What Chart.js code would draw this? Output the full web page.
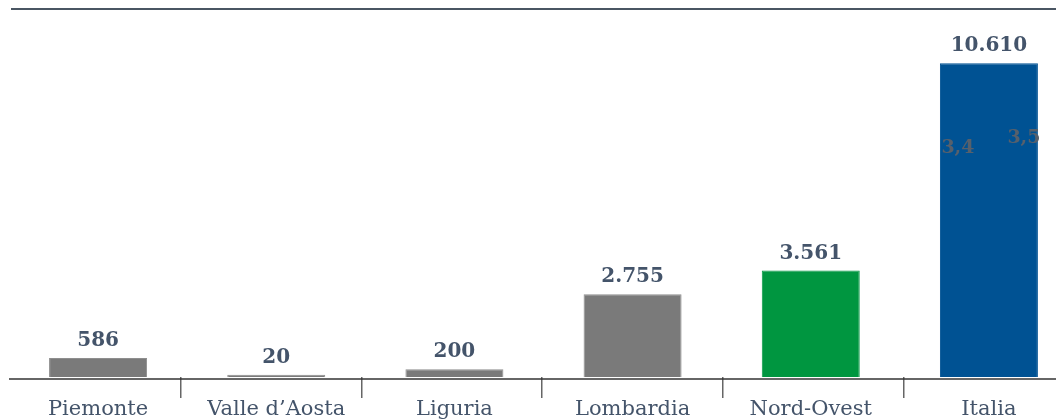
<!DOCTYPE html>
<html>
<head>
<meta charset="utf-8">
<script src="https://cdn.jsdelivr.net/npm/chart.js@4"></script>
<style>
  html, body { margin: 0; padding: 0; background: #fff; overflow: hidden; width: 1056px; height: 419px; }
  #wrap { position: absolute; left: 0; top: 0; width: 1080px; height: 419px; }
</style>
</head>
<body>
<div id="wrap"><canvas id="myChart" width="1080" height="419"></canvas></div>
<script>
// regions and values
const regions = ['Piemonte', 'Valle d\u2019Aosta', 'Liguria', 'Lombardia', 'Nord-Ovest', 'Italia'];
const values = [586, 20, 200, 2755, 3561, 10610];
const barColors = ['#7a7a7a', '#7a7a7a', '#7a7a7a', '#7a7a7a', '#009640', '#005293'];
// small labels sitting over the last bar
const sideNotes = ['3,4', '3,5'];
// separators between the category labels
const separators = [1, 2, 3, 4, 5];

const textColor = '#44546a';
const yMin = -60;

function formatIt(n) {
    return String(n).replace(/\B(?=(\d{3})+(?!\d))/g, '.');
}

// value labels above bars, header rule, axis line and the side notes
const decorations = {
    id: 'decorations',
    afterDatasetsDraw(chart) {
        const ctx = chart.ctx;
        const meta = chart.getDatasetMeta(0);
        ctx.save();
        ctx.fillStyle = textColor;
        ctx.font = 'bold 20px "DejaVu Serif"';
        ctx.textAlign = 'center';
        ctx.textBaseline = 'alphabetic';
        meta.data.forEach((bar, i) => {
            const y = chart.scales.y.getPixelForValue(values[i]);
            ctx.fillText(formatIt(values[i]), bar.x, y - 12);
        });

        // header rule
        ctx.strokeStyle = '#4a5663';
        ctx.lineWidth = 2;
        ctx.beginPath();
        ctx.moveTo(11, 9);
        ctx.lineTo(chart.width, 9);
        ctx.stroke();

        // baseline
        const yb = chart.chartArea.bottom + 2;
        ctx.strokeStyle = '#333';
        ctx.lineWidth = 1.5;
        ctx.beginPath();
        ctx.moveTo(9, yb);
        ctx.lineTo(chart.width, yb);
        ctx.stroke();

        // notes over the Italia bar
        const last = meta.data[meta.data.length - 1];
        ctx.fillStyle = '#56606c';
        ctx.font = 'bold 19px "DejaVu Serif"';
        ctx.fillText(sideNotes[0], last.x - 31, 153);
        ctx.fillText(sideNotes[1], last.x + 35, 143);
        ctx.restore();
    }
};

const config = {
    type: 'bar',
    data: {
        labels: regions,
        datasets: [{
            data: values,
            base: yMin,
            backgroundColor: barColors,
            borderColor: barColors.map(c => c === '#7a7a7a' ? '#8e8e8e' : c),
            borderWidth: 1,
            borderSkipped: 'bottom',
            minBarLength: 2,
            barPercentage: 0.55,
            categoryPercentage: 1
        }]
    },
    options: {
        responsive: false,
        animation: false,
        layout: { padding: { top: 10, left: 9, right: 2, bottom: 0 } },
        plugins: {
            legend: { display: false },
            tooltip: { enabled: false }
        },
        scales: {
            x: {
                weight: 1,
                grid: { display: false },
                border: { display: false },
                ticks: {
                    color: textColor,
                    font: { family: 'DejaVu Serif', size: 21 },
                    padding: 12,
                    maxRotation: 0,
                    autoSkip: false
                },
                afterFit(scale) { scale.height = 42; }
            },
            // tick marks between categories
            x2: {
                type: 'linear',
                position: 'bottom',
                weight: 0,
                offset: false,
                min: 0.05,
                max: 5.965,
                afterBuildTicks(scale) {
                    scale.ticks = separators.map(v => ({ value: v }));
                },
                grid: {
                    offset: false,
                    drawOnChartArea: false,
                    drawTicks: true,
                    tickLength: 21,
                    color: '#666',
                    lineWidth: 1.5
                },
                border: { display: false },
                ticks: { display: false },
                afterFit(scale) { scale.height = 0; }
            },
            y: {
                display: false,
                min: yMin,
                max: 12420
            }
        }
    },
    plugins: [decorations]
};

const myChart = new Chart(document.getElementById('myChart'), config);
</script>
</body>
</html>
